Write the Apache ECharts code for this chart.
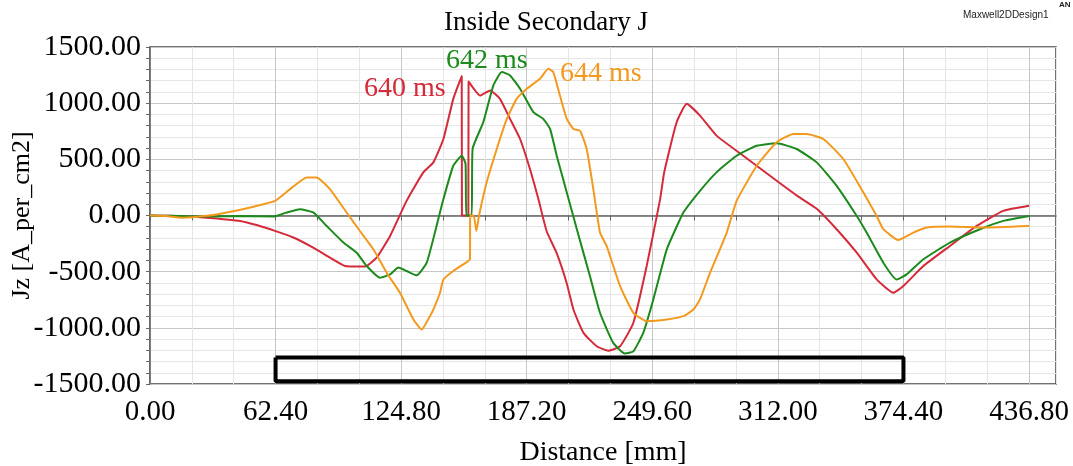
<!DOCTYPE html>
<html>
<head>
<meta charset="utf-8">
<script src="https://cdn.jsdelivr.net/npm/echarts@6/dist/echarts.min.js"></script>
<style>
  html, body { margin: 0; padding: 0; background: #ffffff; }
  #chart { width: 1073px; height: 466px; }
</style>
</head>
<body>
<div id="chart"></div>
<script>
// Current density Jz along the line inside the secondary, three time steps.
const seriesNames = ['640 ms', '642 ms', '644 ms'];

// [distance mm, Jz A_per_cm2]
const curve640 = [
  [0,0],[10,-3],[20,-10],[30,-22],[36.4,-33],[44.7,-48],[53,-85],[62.1,-137],[71.2,-196],
  [81.1,-286],[89.4,-375],[96.9,-450],[104.4,-455],[107.7,-450],[112.6,-375],[119.3,-182],
  [127.5,130],[135.8,384],[140.8,473],[145.8,681],[150.7,1038],[154.9,1241],[155.0,0],
  [158.2,0],[158.3,1193],[164.0,1068],[169.0,1113],[173.9,1038],[178.9,860],[183.9,681],
  [188.8,414],[193.0,146],[197.1,-140],[202.0,-331],[207.0,-598],[210.4,-837],[215.4,-1045],
  [222.0,-1164],[227.7,-1203],[233.6,-1164],[240.2,-955],[246.8,-450],[253.5,146],
  [255.5,384],[261.7,830],[266.7,994],[273.3,889],[281.5,711],[294.8,532],[311.4,309],
  [322,170],[331.3,60],[341.2,-122],[351.2,-331],[361.1,-569],[369.4,-688],[374.3,-628],
  [384.3,-450],[397.5,-271],[410.8,-93],[424,41],[436.8,86]
];
const curve642 = [
  [0,0],[10,-3],[20,-8],[30,-10],[44.7,-5],[61.6,-8],[67.9,27],[74.5,56],[81.1,27],
  [87.8,-93],[96.1,-241],[102.7,-331],[107.7,-450],[114.3,-554],[119.3,-524],[123.4,-464],
  [127.5,-494],[132.5,-533],[137.5,-420],[142.4,-93],[145.8,146],[150.7,443],[154.9,532],
  [156.8,460],[157.2,0],[159.8,0],[160.3,592],[165.6,830],[170.6,1157],[174.8,1277],
  [178.9,1247],[183.9,1128],[190.5,920],[195.4,860],[198.8,771],[202.1,532],[207.1,205],
  [212.1,-122],[218.6,-539],[223.6,-866],[230.2,-1134],[236.0,-1229],[240.2,-1209],
  [245.1,-1045],[250.1,-747],[256.8,-301],[263.4,-33],[265.5,40],[273.3,220],[281.5,384],
  [291.5,532],[301.5,621],[311.4,643],[321.3,592],[331.3,473],[341.2,264],[351.2,-4],
  [356.1,-152],[364.4,-420],[371,-569],[376,-524],[384.3,-390],[397.5,-241],[412.4,-122],
  [424,-48],[436.8,-4]
];
const curve644 = [
  [0,0],[8,-5],[16.4,-20],[28.2,-3],[38.1,27],[49.7,71],[62.1,130],[69.6,235],[77.9,339],
  [82.8,339],[89.4,235],[97.7,27],[104.4,-140],[111,-301],[117.6,-509],[124.2,-688],
  [130.9,-926],[135,-1015],[139.1,-896],[140.8,-837],[144.1,-688],[145.8,-569],[150.7,-494],
  [155.7,-435],[159.0,-390],[159.1,0],[160.8,0],[162.2,-137],[163.5,0],[167.3,295],
  [172.3,592],[177.3,860],[182.2,1038],[187.2,1128],[193.8,1217],[197.9,1306],[200.4,1277],
  [203.7,1068],[207.1,860],[210.4,771],[213.7,755],[217,592],[220.3,235],[223.6,-152],
  [226.9,-271],[233.6,-629],[240.2,-866],[246.8,-941],[256.8,-926],[265,-896],[270,-837],
  [273.3,-747],[278.3,-509],[286.6,-152],[291.5,130],[301.5,443],[311.4,652],[319.7,726],
  [326.3,726],[334.6,681],[344.5,503],[354.5,205],[361.1,-4],[364.4,-122],[371.8,-218],
  [379.3,-152],[386,-107],[397.5,-98],[414.1,-107],[436.8,-93]
];

// Outline of the secondary region drawn near the bottom of the plot
const secondaryBox = [[62.4,-1265],[374.4,-1265],[374.4,-1475],[62.4,-1475],[62.4,-1265]];

// Axis settings
const xMajorStep = 62.4;
const xMinorStep = 20.8;
const xMax = 450.2;
const yMin = -1500, yMax = 1500, yMinorStep = 100;

const colors = ['#d42a3a', '#1c8a1c', '#f39a1e'];
const serif = '"Liberation Serif", "Times New Roman", serif';

const chart = echarts.init(document.getElementById('chart'), null, { renderer: 'canvas' });

function lineSeries(name, data, color) {
  return {
    name, type: 'line', data, showSymbol: false, symbol: 'none',
    smooth: 0.15, lineStyle: { color, width: 2 }, z: 3, animation: false
  };
}

chart.setOption({
  animation: false,
  backgroundColor: '#ffffff',
  grid: {
    left: 150, right: 17, top: 47, bottom: 82, containLabel: false, outerBoundsMode: 'none',
    show: true, borderColor: '#444', borderWidth: 1.5, backgroundColor: '#fff'
  },
  title: {
    text: 'Inside Secondary J', left: 541, top: 4, textAlign: 'center',
    textStyle: { fontFamily: serif, fontSize: 27, fontWeight: 'normal', color: '#000' }
  },
  graphic: [
    { type: 'text', left: 963, top: 10, style: { text: 'Maxwell2DDesign1', fontFamily: 'Liberation Sans, Arial, sans-serif', fontSize: 10, fill: '#222' } },
    { type: 'text', left: 1059, top: 1, style: { text: 'AN', fontFamily: 'Liberation Sans, Arial, sans-serif', fontSize: 8, fontWeight: 'bold', fill: '#222' } },
    { type: 'text', left: 364, top: 75, z: 10, style: { text: seriesNames[0], fontFamily: serif, fontSize: 28, fill: colors[0] } },
    { type: 'text', left: 446, top: 47, z: 10, style: { text: seriesNames[1], fontFamily: serif, fontSize: 28, fill: colors[1] } },
    { type: 'text', left: 560, top: 60, z: 10, style: { text: seriesNames[2], fontFamily: serif, fontSize: 28, fill: colors[2] } }
  ],
  xAxis: {
    type: 'value', min: 0, max: xMax, interval: xMinorStep,
    name: 'Distance [mm]', nameLocation: 'middle', nameGap: 55, nameMoveOverlap: false,
    nameTextStyle: { fontFamily: serif, fontSize: 28, color: '#000' },
    axisLine: { show: true, lineStyle: { color: '#666', width: 1.5 } },
    axisTick: { show: true, length: 5, lineStyle: { color: '#666' } },
    axisLabel: {
      margin: 14, fontFamily: serif, fontSize: 29, color: '#000', showMaxLabel: false,
      formatter: v => {
        const k = v / xMajorStep;
        return Math.abs(k - Math.round(k)) < 1e-6 ? v.toFixed(2) : '';
      }
    },
    splitLine: { show: true, lineStyle: { color: ['#c6c6c6', '#e6e6e6', '#e6e6e6'], width: 1 } }
  },
  yAxis: {
    type: 'value', min: yMin, max: yMax, interval: yMinorStep,
    name: 'Jz [A_per_cm2]', nameLocation: 'middle', nameGap: 115, nameRotate: 90, nameMoveOverlap: false,
    nameTextStyle: { fontFamily: serif, fontSize: 26, color: '#000' },
    axisLine: { show: true, lineStyle: { color: '#666', width: 1.5 } },
    axisTick: { show: true, length: 4, lineStyle: { color: '#666' } },
    axisLabel: {
      margin: 9, fontFamily: serif, fontSize: 30, color: '#000',
      formatter: v => (Math.round(v) % 500 === 0 ? v.toFixed(2) : '')
    },
    splitLine: { show: true, lineStyle: { color: ['#c6c6c6', '#e6e6e6', '#e6e6e6', '#e6e6e6', '#e6e6e6'], width: 1 } }
  },
  series: [
    lineSeries(seriesNames[0], curve640, colors[0]),
    lineSeries(seriesNames[1], curve642, colors[1]),
    lineSeries(seriesNames[2], curve644, colors[2]),
    {
      name: 'secondary', type: 'line', data: secondaryBox, showSymbol: false, symbol: 'none',
      lineStyle: { color: '#000', width: 4 }, z: 2, animation: false
    }
  ]
});
</script>
</body>
</html>
